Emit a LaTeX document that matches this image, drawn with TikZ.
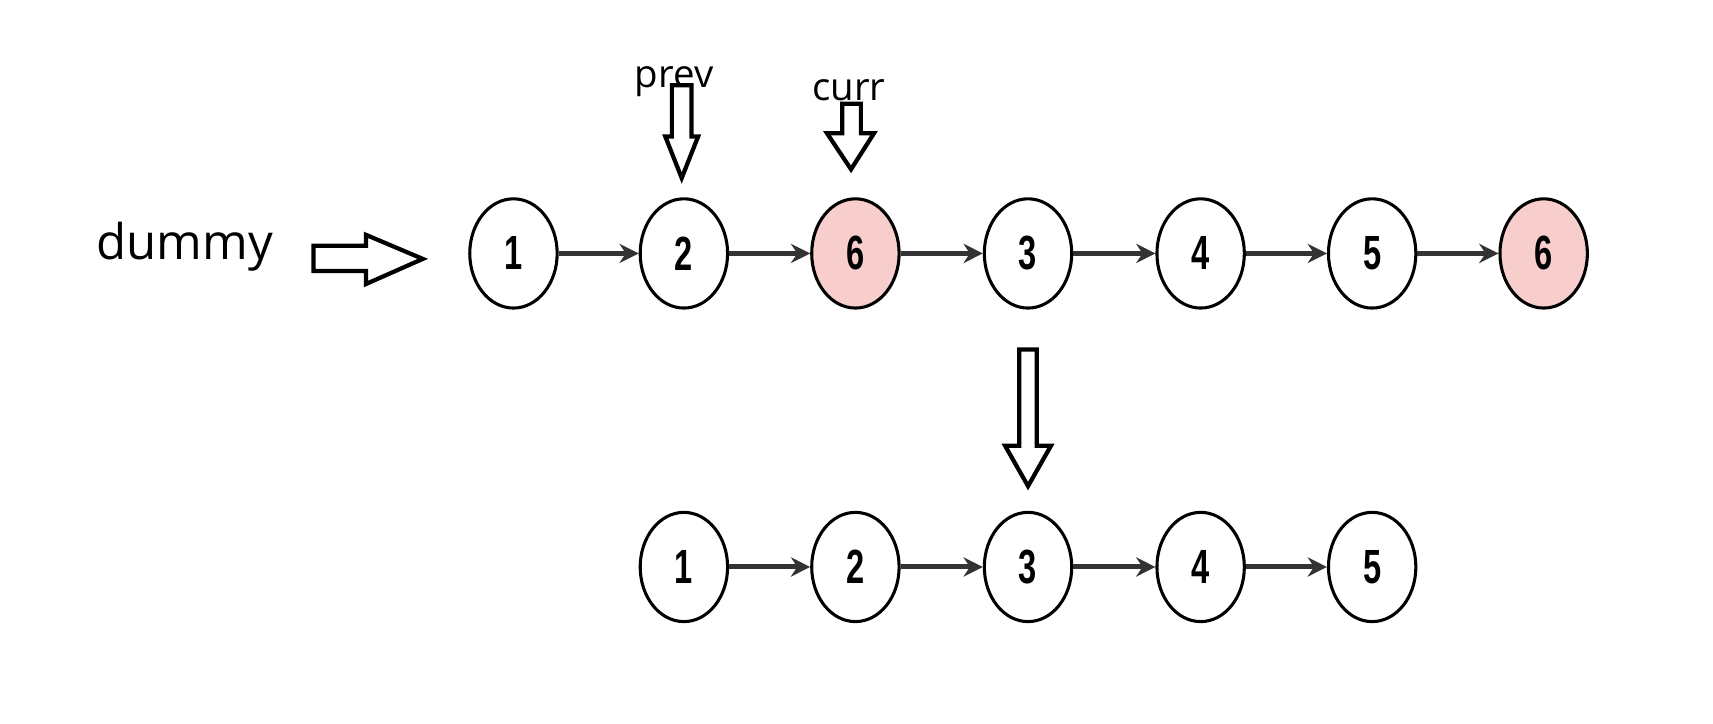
\documentclass[tikz,border=0pt]{standalone}
\usepackage{fontspec}
\setmainfont{Open Sans}
\newfontfamily\numfont[FakeStretch=0.68]{Liberation Sans}
\usetikzlibrary{arrows.meta,shapes.geometric}
\definecolor{nodepink}{HTML}{F8CECC}
\definecolor{linkgray}{HTML}{333333}
\tikzset{
  listnode/.style={draw=black, line width=0.8pt, ellipse, fill=white,
    minimum width=0.80cm, minimum height=1.00cm, inner sep=0pt,
    font=\numfont\bfseries\fontsize{12.5}{14}\selectfont},
  removed/.style={listnode, fill=nodepink},
  link/.style={draw=linkgray, line width=1.3pt, -{Stealth[length=5pt,width=5pt]}},
  blockarrow/.style={draw=black, line width=1.1pt, fill=white, line join=miter},
  label/.style={anchor=base, font=\fontsize{10}{12}\selectfont}
}
\begin{document}
\begin{tikzpicture}
\useasboundingbox (0,0) rectangle (15.68,6.62);
\fill[white] (0,0) rectangle (15.68,6.62);
		%Lista original
\node[listnode] (t1) at (4.70,4.30) {1};
\node[listnode] (t2) at (6.26,4.30) {2};
\node[removed]  (t3) at (7.83,4.30) {6};
\node[listnode] (t4) at (9.41,4.30) {3};
\node[listnode] (t5) at (10.99,4.30) {4};
\node[listnode] (t6) at (12.56,4.30) {5};
\node[removed]  (t7) at (14.13,4.30) {6};
\draw[link] (t1) -- (t2);
\draw[link] (t2) -- (t3);
\draw[link] (t3) -- (t4);
\draw[link] (t4) -- (t5);
\draw[link] (t5) -- (t6);
\draw[link] (t6) -- (t7);
		%Lista resultante
\node[listnode] (b1) at (6.26,1.43) {1};
\node[listnode] (b2) at (7.83,1.43) {2};
\node[listnode] (b3) at (9.41,1.43) {3};
\node[listnode] (b4) at (10.99,1.43) {4};
\node[listnode] (b5) at (12.56,1.43) {5};
\draw[link] (b1) -- (b2);
\draw[link] (b2) -- (b3);
\draw[link] (b3) -- (b4);
\draw[link] (b4) -- (b5);
		%Rotulos
\node[anchor=base, font=\fontsize{12.8}{15}\selectfont] (dummy) at (1.69,4.24) {dummy};
\node[label] (prev) at (6.17,5.82) {prev};
\node[label] (curr) at (7.77,5.70) {curr};
		%Setas de bloco
\draw[blockarrow] (2.87,4.37) -- (3.35,4.37) -- (3.35,4.47) -- (3.87,4.25)
  -- (3.35,4.02) -- (3.35,4.14) -- (2.87,4.14) -- cycle; %Seta dummy
\draw[blockarrow] (6.15,5.84) -- (6.33,5.84) -- (6.33,5.37) -- (6.39,5.37)
  -- (6.24,4.99) -- (6.09,5.37) -- (6.15,5.37) -- cycle; %Seta prev
\draw[blockarrow] (7.71,5.67) -- (7.88,5.67) -- (7.88,5.40) -- (8.00,5.40)
  -- (7.79,5.07) -- (7.57,5.40) -- (7.71,5.40) -- cycle; %Seta curr
\draw[blockarrow] (9.33,3.42) -- (9.49,3.42) -- (9.49,2.54) -- (9.62,2.54)
  -- (9.41,2.17) -- (9.20,2.54) -- (9.33,2.54) -- cycle; %Seta para baixo
\end{tikzpicture}
\end{document}
